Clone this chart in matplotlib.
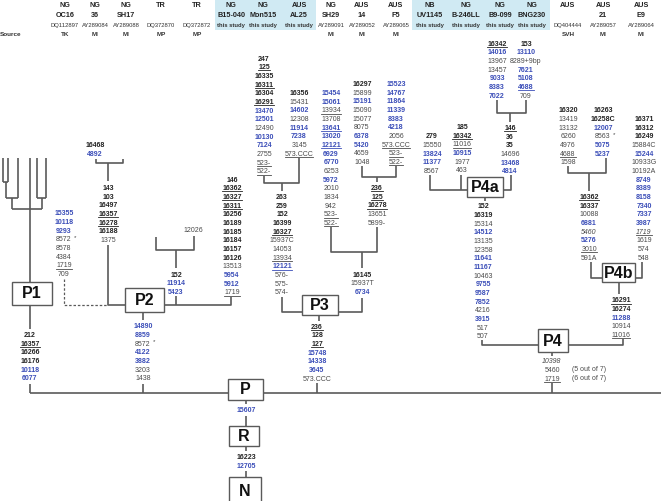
import matplotlib
matplotlib.use('Agg')
import matplotlib.pyplot as plt
from matplotlib.patches import Rectangle

plt.rcParams['font.family'] = ['Liberation Sans', 'DejaVu Sans']

# header rows
countries = ['NG', 'NG', 'NG', 'TR', 'TR', 'NG', 'NG', 'AUS', 'NG', 'AUS', 'AUS',
             'NB', 'NG', 'NG', 'NG', 'AUS', 'AUS', 'AUS']
isolates = ['OC16', '36', 'SH17', '', '', 'B15-040', 'Mon515', 'AL25', 'SH29', '14', 'F5',
            'UV1145', 'B-246LL', 'B9-099', 'BNG230', '', '21', 'E9']
accessions = ['DQ112897', 'AY289084', 'AY289088', 'DQ372870', 'DQ372872',
              'this study', 'this study', 'this study', 'AY289091', 'AY289052', 'AY289065',
              'this study', 'this study', 'this study', 'this study',
              'DQ404444', 'AY289057', 'AY289064']
sources = ['TK', 'MI', 'MI', 'MP', 'MP', '', '', '', 'MI', 'MI', 'MI',
           '', '', '', '', 'SVH', 'MI', 'MI']

# mutation stacks: b = bold black, c = blue, g = grey; u = underline, i = italic, * = asterisk
p1_below = [('212', 'b'), ('16357', 'bu'), ('16266', 'b'), ('16176', 'b'), ('10118', 'c'), ('6077', 'c')]
p1_side = [('15355', 'c'), ('10118', 'c'), ('9293', 'c'), ('8572', 'g*'), ('8578', 'g'),
           ('4384', 'g'), ('1719', 'gu'), ('709', 'g')]
oc16 = [('16468', 'b'), ('4892', 'c')]
p2_up = [('143', 'b'), ('103', 'b'), ('16497', 'b'), ('16357', 'bu'), ('16278', 'bu'),
         ('16188', 'b'), ('1375', 'g')]
tr_leaf = [('12026', 'g')]
p2_right = [('152', 'b'), ('11914', 'c'), ('5423', 'c')]
p2_below = [('14890', 'c'), ('8859', 'c'), ('8572', 'g*'), ('4122', 'c'), ('3882', 'c'),
            ('3203', 'g'), ('1438', 'g')]
b15 = [('146', 'b'), ('16362', 'bu'), ('16327', 'bu'), ('16311', 'bu'), ('16256', 'b'),
       ('16189', 'b'), ('16185', 'b'), ('16184', 'b'), ('16157', 'b'), ('16126', 'b'),
       ('13513', 'g'), ('5954', 'c'), ('5912', 'c'), ('1719', 'gu')]
mon515 = [('247', 'b'), ('125', 'bu'), ('16335', 'b'), ('16311', 'bu'), ('16304', 'b'),
          ('16291', 'bu'), ('13470', 'c'), ('12501', 'c'), ('12490', 'g'), ('10130', 'c'),
          ('7124', 'c'), ('2755', 'g'), ('523-', 'gu'), ('522-', 'gu')]
al25 = [('16356', 'b'), ('15431', 'g'), ('14602', 'c'), ('12308', 'g'), ('11914', 'c'),
        ('7238', 'c'), ('3145', 'g'), ('573.CCC', 'gu')]
p3_left = [('263', 'b'), ('259', 'b'), ('152', 'b'), ('16399', 'b'), ('16327', 'bu'),
           ('15937C', 'g'), ('14053', 'g'), ('13934', 'gu'), ('12121', 'cu'),
           ('576-', 'g'), ('575-', 'g'), ('574-', 'g')]
sh29 = [('15454', 'c'), ('15061', 'c'), ('13934', 'gu'), ('13708', 'g'), ('13641', 'cu'),
        ('13020', 'c'), ('12121', 'cu'), ('6929', 'c'), ('6770', 'c'), ('6253', 'g'),
        ('5972', 'c'), ('2010', 'g'), ('1834', 'g'), ('942', 'g'), ('523-', 'gu'), ('522-', 'gu')]
aus14 = [('16297', 'b'), ('15899', 'g'), ('15191', 'c'), ('15090', 'g'), ('15077', 'g'),
         ('8075', 'g'), ('6378', 'c'), ('5420', 'c'), ('4659', 'g'), ('1048', 'g')]
f5 = [('15523', 'c'), ('14767', 'c'), ('11864', 'c'), ('11339', 'c'), ('8383', 'c'),
      ('4218', 'c'), ('2056', 'g'), ('573.CCC', 'gu'), ('523-', 'gu'), ('522-', 'gu')]
p3_right_up = [('236', 'bu'), ('125', 'bu'), ('16278', 'bu'), ('13651', 'g'), ('5899-', 'g')]
p3_right = [('16145', 'b'), ('15937T', 'g'), ('6734', 'c')]
p3_below = [('236', 'bu'), ('128', 'b'), ('127', 'bu'), ('15748', 'c'), ('14338', 'c'),
            ('3645', 'c'), ('573.CCC', 'g')]
uv1145 = [('279', 'b'), ('15550', 'g'), ('13824', 'c'), ('11377', 'c'), ('8567', 'g')]
b246 = [('185', 'b'), ('16342', 'bu'), ('11016', 'gu'), ('10915', 'c'), ('1977', 'g'), ('463', 'g')]
b9 = [('16342', 'bu'), ('14016', 'c'), ('13967', 'g'), ('13457', 'g'), ('9033', 'c'),
      ('8383', 'c'), ('7022', 'c')]
bng230 = [('153', 'b'), ('13110', 'c'), ('8289+9bp', 'g'), ('7621', 'c'), ('5108', 'c'),
          ('4688', 'cu'), ('709', 'g')]
p4a_right = [('146', 'bu'), ('36', 'b'), ('35', 'b'), ('14696', 'g'), ('13468', 'c'), ('4814', 'c')]
p4a_below = [('152', 'b'), ('16319', 'b'), ('15314', 'g'), ('14512', 'c'), ('13135', 'g'),
             ('12358', 'g'), ('11641', 'c'), ('11167', 'c'), ('10463', 'g'), ('9755', 'c'),
             ('9587', 'c'), ('7852', 'c'), ('4216', 'g'), ('3915', 'c'), ('517', 'g'), ('507', 'g')]
svh = [('16320', 'b'), ('13419', 'g'), ('13132', 'g'), ('6260', 'g'), ('4976', 'g'),
       ('4688', 'gu'), ('1598', 'g')]
aus21 = [('16263', 'b'), ('16258C', 'b'), ('12007', 'c'), ('8563', 'g*'), ('5075', 'c'), ('5237', 'c')]
p4b_up = [('16362', 'bu'), ('16337', 'b'), ('10088', 'g'), ('6881', 'c'), ('5460', 'gi'),
          ('5276', 'c'), ('3010', 'gu'), ('591A', 'g')]
e9 = [('16371', 'b'), ('16312', 'b'), ('16249', 'b'), ('15884C', 'g'), ('15244', 'c'),
      ('10933G', 'g'), ('10192A', 'g'), ('8749', 'c'), ('8389', 'c'), ('8158', 'c'),
      ('7340', 'c'), ('7337', 'c'), ('3987', 'c'), ('1719', 'gui'), ('1619', 'g'),
      ('574', 'g'), ('548', 'g')]
p4b_below = [('16291', 'bu'), ('16274', 'b'), ('11288', 'c'), ('10914', 'g'), ('11016', 'gu')]
p4_below = [('10398', 'gi'), ('5460', 'g'), ('1719', 'gu')]
p4_notes = ['(5 out of 7)', '(6 out of 7)']
p_below = [('15607', 'c')]
r_below = [('16223', 'b'), ('12705', 'c')]

box_names = ['P1', 'P2', 'P3', 'P4a', 'P4b', 'P4', 'P', 'R', 'N']

# ---- layout (pixel coordinates) ----
header_x = [65, 95, 126, 161, 197, 231, 263, 299, 331, 362, 396, 430, 466, 500, 532, 568, 603, 641]
stacks = [
    (p1_below, 30, 334.7), (p1_side, 64, 213), (oc16, 95, 144.7), (p2_up, 108, 187.7),
    (tr_leaf, 193, 230), (p2_right, 176, 274.3), (p2_below, 143, 326), (b15, 232, 179.3),
    (mon515, 264, 58.3), (al25, 299, 92.7), (p3_left, 282, 196.7), (sh29, 331, 92.7),
    (aus14, 362, 83.7), (f5, 396, 83.7), (p3_right_up, 377, 187.7), (p3_right, 362, 274.3),
    (p3_below, 317, 326.3), (uv1145, 432, 136), (b246, 462, 126.7), (b9, 497, 43.3),
    (bng230, 526, 43.3), (p4a_right, 510, 127.7), (p4a_below, 483, 206), (svh, 568, 110),
    (aus21, 603, 110), (p4b_up, 589, 196.7), (e9, 644, 118.7), (p4b_below, 621, 300),
    (p4_below, 552, 361), (p_below, 246, 410), (r_below, 246, 457),
]
boxes = [(12, 282, 52, 305), (125, 288, 164, 312), (302, 295, 338, 315),
         (467, 177, 503, 197), (602, 263, 635, 282), (538, 329, 568, 352),
         (228, 379, 263, 400), (229, 426, 259, 446), (229, 477, 261, 505)]
lines = [
    # P1 tree
    [(3, 158), (3, 182)], [(8, 158), (8, 182)], [(3, 182), (8, 182)], [(5.5, 182), (5.5, 198)],
    [(18, 158), (18, 198)], [(5.5, 198), (18, 198)], [(12, 198), (12, 209)],
    [(37, 158), (37, 198)], [(46, 158), (46, 198)], [(37, 198), (46, 198)], [(41.5, 198), (41.5, 209)],
    [(12, 209), (41.5, 209)], [(30, 158), (30, 282)],
    [(30, 305), (30, 329)], [(30, 384), (30, 393)],
    # P2
    [(96, 159), (96, 163), (123, 163), (123, 159)], [(108, 163), (108, 181)],
    [(108, 245), (108, 305), (125, 305)],
    [(164, 305), (231, 305), (231, 297)],
    [(176, 305), (176, 296)], [(176, 268), (176, 250)],
    [(156, 237), (156, 250), (194, 250), (194, 236)],
    [(143, 312), (143, 320)], [(143, 384), (143, 393)],
    # P3
    [(264, 176), (264, 183), (299, 183), (299, 158)], [(282, 183), (282, 191)],
    [(282, 297), (282, 312), (302, 312)],
    [(338, 312), (362, 312), (362, 298)], [(362, 268), (362, 252)],
    [(331, 227), (331, 252), (377, 252), (377, 227)],
    [(362, 166), (362, 177), (396, 177), (396, 166)], [(377, 177), (377, 182)],
    [(319, 315), (319, 321)], [(317, 383), (317, 393)],
    # P4a
    [(430, 175), (430, 190), (467, 190)], [(461, 175), (461, 190)],
    [(503, 190), (511, 190), (511, 175)],
    [(497, 100), (497, 113), (526, 113), (526, 100)], [(510, 113), (510, 122)],
    [(485, 197), (485, 201)], [(482, 340), (482, 345), (538, 345)],
    [(568, 345), (623, 345), (623, 339)],
    [(552, 352), (552, 356)], [(552, 383), (552, 393)],
    # P4b
    [(568, 166), (568, 173), (606, 173), (606, 158)], [(589, 173), (589, 191)],
    [(591, 262), (591, 278), (602, 278)], [(635, 278), (642, 278), (642, 262)],
    [(619, 282), (619, 294)],
    # root
    [(30, 393), (661, 393)],
    [(246, 400), (246, 404)], [(246, 416), (246, 426)], [(246, 446), (246, 451)], [(246, 471), (246, 477)],
]
dashed = [[(64, 279), (64, 305), (108, 305)]]

ROW = 8.67
FS = 5.0
LINE_C = '#5a5a5a'
styles = {'b': ('#222222', 'bold'), 'c': ('#3a4db8', 'bold'), 'g': ('#4a4a4a', 'normal')}

fig = plt.figure(figsize=(6.61, 5.01), dpi=100)
ax = fig.add_axes([0, 0, 1, 1])
ax.set_xlim(0, 661)
ax.set_ylim(501, 0)
ax.axis('off')

# header
ax.add_patch(Rectangle((215, 0), 101, 30, color='#d0eaf3', lw=0))
ax.add_patch(Rectangle((412, 0), 138, 30, color='#d0eaf3', lw=0))
for x, c, iso, acc, src in zip(header_x, countries, isolates, accessions, sources):
    ax.text(x, 5, c, ha='center', va='center', fontsize=5.2, fontweight='bold', color='#222222')
    ax.text(x, 15, iso, ha='center', va='center', fontsize=5.2, fontweight='bold', color='#222222')
    ax.text(x, 25.3, acc, ha='center', va='center', fontsize=4.2, color='#333333',
            fontweight='bold' if acc == 'this study' else 'normal')
    ax.text(x, 34.7, src, ha='center', va='center', fontsize=4.6, fontweight='bold', color='#333333')
ax.text(0, 34.7, 'Source', ha='left', va='center', fontsize=4.6, fontweight='bold', color='#333333')

for pts in lines:
    xs, ys = zip(*pts)
    ax.plot(xs, ys, color=LINE_C, lw=1.2, solid_capstyle='butt', zorder=2)
for pts in dashed:
    xs, ys = zip(*pts)
    ax.plot(xs, ys, color=LINE_C, lw=0.9, ls=(0, (2, 1.5)), zorder=2)

for (x0, y0, x1, y1), name in zip(boxes, box_names):
    ax.add_patch(Rectangle((x0, y0), x1 - x0, y1 - y0, facecolor='white',
                           edgecolor=LINE_C, lw=1.0, zorder=3))
    ax.text((x0 + x1) / 2, (y0 + y1) / 2 + 0.5, name, ha='center', va='center',
            fontsize=11.5, fontweight='bold', color='#111111', zorder=4)

fig.canvas.draw()
renderer = fig.canvas.get_renderer()
inv = ax.transData.inverted()
for items, x, y0 in stacks:
    for k, (lab, st) in enumerate(items):
        y = y0 + k * ROW
        color, weight = styles[st[0]]
        t = ax.text(x, y, lab, ha='center', va='baseline', fontsize=FS, color=color,
                    fontweight=weight, fontstyle='italic' if 'i' in st else 'normal',
                    transform=ax.transData)
        t.set_y(y + 2.4)
        if 'u' in st or '*' in st:
            bb = t.get_window_extent(renderer)
            xa, _ = inv.transform((bb.x0, bb.y0))
            xb, _ = inv.transform((bb.x1, bb.y0))
            if 'u' in st:
                ax.plot([xa, xb], [y + 3.5, y + 3.5], color=color, lw=0.6)
            if '*' in st:
                ax.text(xb + 2.5, y - 1.5, '*', ha='left', va='center', fontsize=4.5, color=color)

for k, note in enumerate(p4_notes):
    ax.text(572, 369.7 + k * ROW, note, ha='left', va='center', fontsize=FS, color='#4a4a4a')

fig.savefig('out.png', dpi=100)
